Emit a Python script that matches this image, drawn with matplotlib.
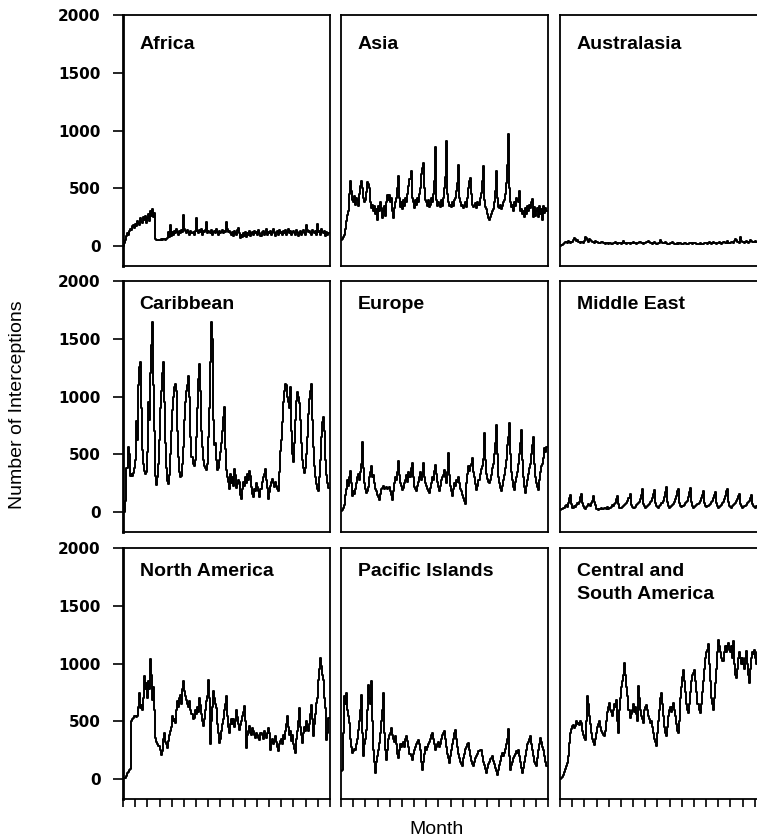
import numpy as np
import matplotlib
matplotlib.use("Agg")
import matplotlib.pyplot as plt

# monthly interceptions, 17 years x 12 months per region
africa = [
    0, 25, 55, 90, 110, 100, 130, 150, 140, 170, 180, 160,
    190, 170, 220, 200, 180, 240, 210, 200, 250, 230, 260, 200,
    240, 280, 220, 300, 260, 320, 250, 290, 60, 50, 55, 50,
    55, 50, 60, 55, 60, 65, 55, 60, 70, 120, 80, 180,
    90, 120, 100, 130, 110, 150, 120, 100, 130, 110, 140, 120,
    270, 150, 130, 110, 140, 120, 100, 130, 110, 120, 100, 130,
    240, 130, 110, 140, 120, 150, 100, 130, 120, 140, 210, 110,
    130, 120, 110, 140, 100, 120, 130, 110, 150, 120, 100, 130,
    110, 120, 140, 110, 130, 120, 210, 150, 120, 130, 110, 100,
    120, 90, 130, 110, 100, 140, 160, 110, 70, 100, 80, 110,
    90, 120, 80, 110, 100, 130, 90, 110, 120, 100, 130, 110,
    120, 100, 140, 110, 90, 120, 130, 100, 110, 150, 100, 120,
    110, 130, 100, 120, 150, 110, 90, 120, 130, 100, 140, 110,
    120, 100, 130, 110, 140, 100, 120, 150, 110, 130, 100, 120,
    130, 110, 100, 140, 120, 90, 110, 130, 100, 120, 140, 110,
    100, 180, 140, 120, 130, 110, 100, 140, 120, 110, 130, 100,
    190, 120, 130, 100, 150, 120, 110, 130, 90, 120, 100, 110,
]
asia = [
    56, 60, 80, 100, 150, 220, 268, 300, 450, 564, 480, 400,
    380, 430, 360, 420, 400, 350, 450, 520, 564, 500, 420, 380,
    400, 470, 555, 540, 500, 380, 330, 360, 300, 350, 280, 320,
    225, 350, 300, 380, 330, 240, 300, 350, 260, 380, 440, 400,
    440, 380, 420, 300, 240, 330, 380, 420, 500, 606, 420, 340,
    380, 320, 400, 350, 420, 380, 450, 520, 580, 650, 420, 380,
    330, 400, 360, 420, 380, 450, 500, 620, 680, 720, 500, 400,
    380, 350, 400, 340, 360, 420, 380, 450, 560, 860, 400, 350,
    380, 360, 340, 400, 350, 420, 500, 600, 910, 450, 380, 350,
    360, 340, 380, 350, 400, 420, 480, 550, 705, 420, 380, 350,
    360, 330, 350, 380, 340, 420, 500, 560, 590, 450, 360, 340,
    350, 370, 330, 380, 360, 420, 460, 560, 690, 400, 340, 320,
    280, 240, 225, 250, 280, 300, 320, 380, 480, 654, 420, 340,
    330, 360, 320, 350, 380, 400, 450, 550, 700, 973, 500, 380,
    340, 360, 300, 380, 350, 420, 400, 380, 480, 300, 320, 280,
    300, 250, 330, 280, 350, 300, 360, 330, 380, 410, 250, 340,
    260, 300, 330, 250, 350, 280, 320, 230, 350, 290, 330, 300,
]
australasia = [
    5, 8, 10, 20, 30, 40, 35, 30, 45, 40, 30, 35,
    40, 55, 70, 60, 45, 50, 40, 35, 30, 40, 35, 30,
    45, 75, 70, 50, 40, 60, 55, 45, 40, 35, 30, 45,
    40, 35, 30, 25, 30, 35, 40, 30, 25, 20, 25, 30,
    20, 25, 30, 20, 15, 25, 30, 35, 25, 20, 25, 30,
    25, 20, 30, 45, 30, 25, 20, 30, 25, 20, 25, 30,
    35, 30, 25, 20, 25, 30, 40, 35, 30, 25, 20, 25,
    30, 35, 40, 45, 35, 30, 25, 20, 30, 35, 25, 20,
    20, 25, 30, 55, 40, 30, 25, 30, 35, 25, 20, 15,
    20, 25, 30, 35, 25, 20, 15, 20, 25, 20, 30, 25,
    20, 15, 20, 25, 30, 20, 15, 20, 25, 30, 25, 20,
    25, 30, 25, 20, 15, 20, 25, 20, 15, 20, 25, 30,
    25, 20, 30, 35, 25, 20, 30, 40, 30, 25, 20, 25,
    30, 35, 25, 20, 30, 40, 35, 30, 25, 45, 30, 25,
    30, 40, 35, 30, 45, 60, 50, 40, 35, 30, 75, 45,
    40, 35, 30, 40, 45, 35, 30, 40, 50, 45, 40, 35,
    40, 45, 35, 40, 50, 45, 35, 40, 45, 40, 35, 40,
]
caribbean = [
    0, 0, 95, 380, 380, 560, 500, 310, 330, 310, 340, 380,
    450, 790, 620, 1100, 1257, 1300, 900, 540, 420, 360, 333, 350,
    520, 955, 800, 1200, 1450, 1645, 1100, 700, 310, 238, 300, 420,
    620, 900, 1050, 1200, 1300, 950, 600, 380, 270, 240, 320, 500,
    700, 880, 1000, 1080, 1113, 1050, 700, 480, 350, 300, 310, 420,
    560, 800, 950, 1050, 1100, 1177, 1000, 650, 480, 420, 396, 450,
    650, 900, 1150, 1286, 1050, 700, 560, 450, 400, 380, 367, 420,
    650, 900, 1300, 1645, 1500, 800, 583, 600, 450, 367, 380, 450,
    520, 600, 700, 820, 913, 550, 367, 300, 260, 200, 330, 250,
    300, 230, 370, 320, 210, 240, 280, 260, 150, 110, 200, 260,
    230, 300, 250, 330, 280, 360, 310, 220, 160, 130, 200, 180,
    250, 220, 180, 130, 200, 260, 300, 330, 370, 280, 210, 110,
    170, 230, 260, 290, 250, 220, 260, 230, 200, 180, 350, 525,
    620, 780, 950, 1050, 1113, 1100, 1000, 950, 900, 1085, 700, 500,
    430, 600, 800, 960, 1042, 1000, 940, 800, 600, 450, 380, 340,
    380, 500, 650, 850, 980, 1050, 1113, 800, 560, 400, 300, 240,
    200, 180, 300, 450, 650, 780, 826, 700, 450, 320, 250, 210,
]
europe = [
    10, 15, 40, 60, 150, 200, 280, 230, 300, 353, 250, 140,
    180, 160, 200, 250, 300, 330, 280, 350, 420, 610, 380, 250,
    200, 165, 180, 220, 300, 350, 396, 300, 320, 250, 200, 180,
    150, 130, 109, 160, 200, 210, 230, 200, 210, 220, 200, 210,
    220, 180, 150, 109, 180, 250, 300, 280, 350, 440, 320, 250,
    230, 190, 210, 250, 280, 320, 260, 350, 300, 380, 425, 300,
    220, 200, 180, 230, 260, 300, 350, 280, 330, 425, 300, 250,
    230, 200, 180, 165, 210, 250, 300, 280, 360, 410, 330, 260,
    220, 180, 230, 280, 300, 320, 367, 300, 250, 350, 510, 320,
    230, 180, 140, 200, 250, 230, 280, 260, 300, 250, 200, 180,
    150, 120, 100, 66, 250, 330, 396, 360, 400, 420, 468, 350,
    300, 240, 190, 230, 280, 330, 370, 400, 460, 683, 450, 330,
    290, 260, 250, 280, 320, 380, 420, 500, 600, 755, 500, 300,
    250, 210, 180, 230, 280, 320, 380, 450, 580, 650, 770, 500,
    350, 280, 220, 190, 260, 300, 350, 420, 500, 600, 712, 450,
    300, 220, 165, 230, 280, 330, 380, 420, 500, 580, 654, 420,
    300, 250, 220, 190, 280, 350, 400, 420, 470, 554, 520, 560,
]
middle_east = [
    20, 25, 30, 40, 35, 50, 60, 45, 80, 120, 150, 70,
    40, 35, 50, 45, 60, 80, 70, 90, 130, 160, 80, 50,
    40, 30, 45, 50, 70, 60, 55, 80, 100, 140, 90, 60,
    30, 25, 20, 25, 30, 35, 25, 30, 40, 35, 30, 45,
    30, 35, 40, 45, 60, 50, 70, 80, 110, 140, 70, 40,
    35, 40, 45, 55, 60, 70, 80, 100, 120, 160, 60, 45,
    40, 35, 45, 60, 70, 75, 90, 110, 150, 200, 70, 50,
    40, 45, 50, 60, 70, 85, 95, 120, 160, 190, 80, 55,
    45, 40, 55, 60, 75, 80, 100, 130, 170, 215, 90, 50,
    40, 45, 50, 65, 70, 90, 110, 140, 180, 200, 80, 55,
    45, 50, 55, 60, 75, 85, 100, 130, 170, 210, 90, 50,
    40, 45, 50, 60, 70, 80, 95, 120, 150, 180, 80, 55,
    45, 50, 55, 65, 70, 85, 100, 120, 150, 170, 75, 50,
    40, 45, 50, 60, 75, 90, 110, 140, 180, 200, 85, 55,
    45, 40, 55, 60, 70, 80, 95, 110, 140, 160, 70, 50,
    40, 45, 50, 55, 60, 75, 90, 100, 120, 150, 70, 50,
    45, 40, 50, 55, 60, 70, 80, 90, 110, 130, 70, 55,
]
north_america = [
    9, 10, 12, 30, 52, 60, 75, 90, 500, 520, 530, 543,
    550, 540, 543, 620, 745, 615, 640, 600, 700, 890, 780, 832,
    700, 850, 780, 1043, 900, 688, 800, 600, 355, 320, 300, 290,
    283, 250, 211, 240, 350, 400, 320, 300, 270, 330, 380, 413,
    450, 543, 500, 520, 485, 600, 673, 620, 700, 730, 650, 780,
    847, 760, 720, 688, 650, 620, 680, 600, 560, 520, 530, 600,
    560, 620, 580, 700, 640, 560, 500, 457, 520, 600, 680, 720,
    861, 700, 306, 500, 620, 760, 700, 650, 615, 480, 400, 312,
    350, 420, 480, 520, 600, 650, 717, 550, 450, 400, 480, 520,
    480, 520, 450, 500, 600, 540, 480, 428, 470, 500, 550, 580,
    630, 500, 269, 380, 420, 457, 400, 380, 440, 420, 380, 360,
    400, 380, 360, 341, 400, 380, 350, 420, 380, 360, 400, 442,
    400, 254, 320, 350, 300, 330, 370, 320, 280, 240, 300, 330,
    350, 300, 384, 350, 420, 480, 543, 450, 380, 420, 327, 380,
    300, 260, 225, 350, 420, 500, 615, 450, 380, 312, 400, 450,
    420, 500, 450, 420, 480, 560, 644, 520, 370, 480, 560, 659,
    700, 861, 950, 1049, 980, 900, 861, 700, 615, 341, 400, 528,
]
pacific_islands = [
    66, 80, 400, 716, 650, 746, 600, 543, 485, 350, 280, 225,
    240, 260, 250, 300, 350, 428, 500, 600, 731, 400, 196, 300,
    350, 428, 600, 818, 700, 650, 847, 500, 250, 150, 52, 150,
    200, 250, 312, 400, 500, 600, 746, 400, 250, 168, 250, 350,
    380, 400, 442, 380, 350, 320, 370, 300, 220, 182, 250, 300,
    280, 300, 320, 280, 350, 370, 330, 280, 220, 200, 168, 220,
    250, 280, 300, 320, 340, 300, 250, 150, 81, 150, 220, 280,
    250, 280, 300, 320, 350, 380, 400, 350, 300, 254, 280, 300,
    320, 280, 300, 350, 380, 400, 413, 350, 280, 220, 180, 140,
    200, 250, 300, 350, 400, 428, 350, 280, 220, 180, 150, 130,
    110, 180, 220, 260, 280, 300, 312, 250, 200, 160, 130, 110,
    150, 180, 200, 220, 240, 250, 254, 200, 150, 120, 90, 52,
    100, 130, 150, 170, 180, 196, 160, 130, 100, 70, 38, 80,
    120, 160, 200, 225, 200, 230, 260, 300, 350, 434, 200, 81,
    120, 150, 180, 200, 220, 240, 230, 254, 200, 150, 100, 52,
    100, 150, 200, 250, 300, 320, 350, 370, 300, 250, 200, 150,
    130, 110, 180, 250, 300, 355, 320, 280, 250, 200, 150, 110,
]
central_south_america = [
    0, 10, 20, 38, 60, 90, 110, 139, 200, 312, 400, 430,
    457, 470, 440, 457, 500, 480, 485, 470, 500, 485, 420, 380,
    360, 341, 500, 717, 650, 550, 480, 400, 350, 320, 298, 350,
    400, 450, 480, 500, 450, 420, 400, 380, 370, 420, 500, 580,
    620, 659, 600, 580, 550, 600, 650, 620, 688, 500, 400, 600,
    700, 800, 850, 900, 1006, 900, 800, 717, 600, 528, 560, 600,
    650, 580, 620, 560, 500, 803, 700, 600, 550, 520, 485, 600,
    620, 644, 600, 550, 520, 485, 500, 450, 400, 350, 320, 283,
    400, 500, 600, 700, 746, 650, 550, 450, 400, 370, 450, 550,
    600, 620, 580, 620, 659, 600, 550, 480, 420, 400, 500, 700,
    800, 880, 948, 850, 750, 650, 600, 572, 650, 750, 850, 900,
    920, 948, 850, 750, 650, 600, 572, 650, 750, 850, 950, 1050,
    1100, 1120, 1165, 1000, 850, 700, 650, 600, 700, 832, 950, 1100,
    1208, 1150, 1100, 1050, 1020, 1020, 1100, 1150, 1100, 1150, 1180, 1120,
    1100, 1150, 1050, 1194, 1000, 900, 876, 950, 1050, 1100, 1050, 1000,
    1050, 1000, 950, 1050, 1107, 1000, 900, 832, 950, 1050, 1100, 1080,
    1121, 1050, 1000, 1100, 1080, 1050, 1120, 1100, 1080, 1150, 1100, 1120,
]

regions = ["Africa", "Asia", "Australasia",
           "Caribbean", "Europe", "Middle East",
           "North America", "Pacific Islands", "Central and\nSouth America"]
series = [africa, asia, australasia,
          caribbean, europe, middle_east,
          north_america, pacific_islands, central_south_america]
y_ticks = [0, 500, 1000, 1500, 2000]

W, H = 757, 840
fig = plt.figure(figsize=(W / 100, H / 100), dpi=100)

col_left = [123, 341, 560]
row_top = [15, 281, 548]
panel_w, panel_h = 207, 251

for i, (name, vals) in enumerate(zip(regions, series)):
    r, c = divmod(i, 3)
    ax = fig.add_axes([col_left[c] / W, 1 - (row_top[r] + panel_h) / H,
                       panel_w / W, panel_h / H])
    months = np.arange(len(vals))
    ax.plot(months, vals, color="black", lw=1.4, drawstyle="steps-mid")
    ax.set_xlim(0, 204)
    ax.set_ylim(-172, 2000)
    for sp in ax.spines.values():
        sp.set_linewidth(1.3)
    if c == 0:
        ax.spines["left"].set_linewidth(2.0)
        ax.set_yticks(y_ticks)
        ax.tick_params(axis="y", direction="out", length=7, width=1.2, pad=9)
        for lab in ax.get_yticklabels():
            lab.set_fontfamily("DejaVu Sans")
            lab.set_fontweight("bold")
            lab.set_fontsize(11)
    else:
        ax.set_yticks([])
    if r == 2:
        ax.set_xticks(np.arange(0, 205, 12))
        ax.tick_params(axis="x", direction="out", length=6, width=1.2, labelbottom=False)
    else:
        ax.set_xticks([])
    ty = 0.915 if r == 0 else 0.94
    ax.text(0.08, ty, name, transform=ax.transAxes, ha="left", va="top",
            fontfamily="Liberation Sans", fontweight="bold", fontsize=14,
            linespacing=1.45)

fig.text(436 / W, 1 - 829 / H, "Month", ha="center", va="center",
         fontfamily="Liberation Sans", fontsize=14)
fig.text(18 / W, 1 - 405 / H, "Number of Interceptions", rotation=90,
         ha="center", va="center", fontfamily="Liberation Sans", fontsize=14)

fig.savefig("out.png", dpi=100)
